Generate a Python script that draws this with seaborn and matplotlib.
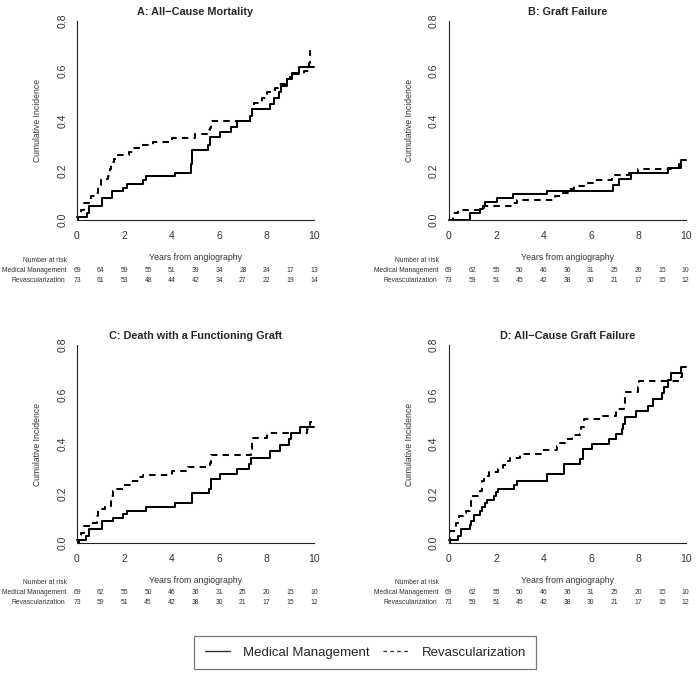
import pandas as pd
import seaborn as sns
import matplotlib
matplotlib.use("Agg")
import matplotlib.pyplot as plt
from matplotlib.lines import Line2D
import matplotlib.transforms as mtransforms

# ---- data (step functions: time, cumulative incidence) ----
groups = ["Medical Management", "Revascularization"]
titles = ["A: All\u2212Cause Mortality", "B: Graft Failure",
          "C: Death with a Functioning Graft", "D: All\u2212Cause Graft Failure"]
years = list(range(0, 11))

a_mm_t = [0, 0.44, 0.52, 1.04, 1.46, 1.93, 2.1, 2.8, 2.9, 4.13, 4.8, 4.87, 5.54, 5.6, 6.03,
          6.5, 6.77, 7.3, 7.37, 8.14, 8.3, 8.54, 8.6, 8.87, 9.06, 9.38, 10]
a_mm_y = [0.014, 0.029, 0.058, 0.087, 0.116, 0.13, 0.145, 0.16, 0.175, 0.19, 0.225, 0.28, 0.30,
          0.335, 0.355, 0.375, 0.40, 0.42, 0.445, 0.465, 0.49, 0.515, 0.54, 0.565, 0.59, 0.615, 0.615]
a_rv_t = [0, 0.05, 0.15, 0.3, 0.6, 0.75, 0.9, 1.0, 1.3, 1.4, 1.45, 1.55, 1.7, 2.2, 2.4, 2.7,
          3.2, 4.0, 5.0, 5.55, 5.6, 5.65, 7.3, 7.35, 7.4, 7.45, 7.8, 8.0, 8.35, 8.5, 8.8, 9.0,
          9.6, 9.8, 9.85, 9.88]
a_rv_y = [0.0, 0.014, 0.041, 0.068, 0.095, 0.11, 0.137, 0.164, 0.178, 0.205, 0.233, 0.247,
          0.26, 0.274, 0.288, 0.30, 0.315, 0.33, 0.345, 0.36, 0.37, 0.40, 0.41, 0.425, 0.45,
          0.47, 0.49, 0.515, 0.53, 0.545, 0.565, 0.585, 0.60, 0.63, 0.68, 0.68]

b_mm_t = [0, 0.9, 1.3, 1.45, 1.55, 2.05, 2.7, 4.15, 6.95, 7.2, 7.7, 9.25, 9.8, 10]
b_mm_y = [0.0, 0.029, 0.044, 0.058, 0.073, 0.088, 0.103, 0.118, 0.14, 0.165, 0.19, 0.21, 0.24, 0.24]
b_rv_t = [0, 0.2, 0.4, 1.3, 1.5, 2.65, 2.9, 4.5, 4.75, 5.05, 5.3, 5.7, 6.1, 6.9, 7.6, 8.0,
          9.4, 9.7, 9.85, 9.9]
b_rv_y = [0.0, 0.027, 0.041, 0.05, 0.055, 0.07, 0.082, 0.096, 0.11, 0.125, 0.135, 0.15,
          0.16, 0.18, 0.19, 0.205, 0.21, 0.225, 0.24, 0.24]

c_mm_t = [0, 0.4, 0.52, 1.04, 1.5, 1.93, 2.1, 2.9, 4.15, 4.87, 5.55, 5.65, 6.05, 6.75, 7.25,
          7.35, 8.15, 8.55, 8.95, 9.05, 9.4, 10]
c_mm_y = [0.014, 0.028, 0.058, 0.087, 0.10, 0.117, 0.13, 0.145, 0.16, 0.20, 0.22, 0.26, 0.28,
          0.30, 0.32, 0.345, 0.37, 0.395, 0.42, 0.445, 0.47, 0.47]
c_rv_t = [0, 0.1, 0.15, 0.3, 0.6, 0.85, 0.9, 1.2, 1.45, 1.5, 1.7, 2.0, 2.3, 2.6, 2.8, 4.0,
          4.7, 5.6, 5.65, 7.35, 7.4, 8.0, 9.7, 9.75, 9.85, 9.9]
c_rv_y = [0.0, 0.014, 0.04, 0.068, 0.08, 0.11, 0.137, 0.15, 0.19, 0.21, 0.22, 0.235, 0.25,
          0.265, 0.275, 0.29, 0.305, 0.325, 0.355, 0.38, 0.425, 0.445, 0.46, 0.475, 0.49, 0.49]

d_mm_t = [0, 0.4, 0.52, 0.9, 0.95, 1.05, 1.3, 1.4, 1.55, 1.6, 1.9, 2.0, 2.1, 2.75, 2.9, 4.15,
          4.85, 5.55, 5.65, 6.05, 6.75, 7.05, 7.3, 7.35, 7.45, 7.9, 8.4, 8.6, 9.0, 9.1, 9.25,
          9.4, 9.8, 10]
d_mm_y = [0.014, 0.028, 0.058, 0.073, 0.087, 0.115, 0.13, 0.145, 0.16, 0.175, 0.19, 0.205,
          0.22, 0.235, 0.25, 0.28, 0.32, 0.34, 0.38, 0.40, 0.42, 0.44, 0.46, 0.48, 0.51, 0.535,
          0.555, 0.58, 0.605, 0.63, 0.66, 0.685, 0.71, 0.71]
d_rv_t = [0, 0.05, 0.3, 0.45, 0.6, 0.75, 0.9, 0.95, 1.3, 1.4, 1.5, 1.7, 2.1, 2.3, 2.5, 2.6,
          3.0, 3.9, 4.55, 4.65, 4.9, 5.2, 5.55, 5.6, 5.7, 6.5, 7.05, 7.4, 7.45, 8.0, 8.05,
          9.8, 9.85, 9.9]
d_rv_y = [0.0, 0.05, 0.08, 0.11, 0.12, 0.13, 0.15, 0.19, 0.21, 0.25, 0.27, 0.285, 0.30,
          0.315, 0.33, 0.345, 0.36, 0.375, 0.39, 0.405, 0.42, 0.435, 0.44, 0.47, 0.50, 0.515,
          0.54, 0.56, 0.61, 0.63, 0.655, 0.67, 0.685, 0.685]

# numbers at risk (years 0..10)
a_risk_mm = [69, 64, 59, 55, 51, 39, 34, 28, 24, 17, 13]
a_risk_rv = [73, 61, 53, 48, 44, 42, 34, 27, 22, 19, 14]
bcd_risk_mm = [69, 62, 55, 50, 46, 36, 31, 25, 20, 15, 10]
bcd_risk_rv = [73, 59, 51, 45, 42, 38, 30, 21, 17, 15, 12]

panels = [
    (a_mm_t, a_mm_y, a_rv_t, a_rv_y, a_risk_mm, a_risk_rv),
    (b_mm_t, b_mm_y, b_rv_t, b_rv_y, bcd_risk_mm, bcd_risk_rv),
    (c_mm_t, c_mm_y, c_rv_t, c_rv_y, bcd_risk_mm, bcd_risk_rv),
    (d_mm_t, d_mm_y, d_rv_t, d_rv_y, bcd_risk_mm, bcd_risk_rv),
]

sns.set_style("white")
plt.rcParams['font.family'] = ['Liberation Sans', 'DejaVu Sans']

fig = plt.figure(figsize=(6.96, 6.73), dpi=100)
positions = [
    [0.1106, 0.6731, 0.3405, 0.2957],
    [0.6447, 0.6731, 0.3405, 0.2957],
    [0.1106, 0.1932, 0.3405, 0.2942],
    [0.6447, 0.1932, 0.3405, 0.2942],
]

dash_map = {"Medical Management": "", "Revascularization": (3.2, 2.6)}
text_col = "#333333"
risk_fs = 4.9

for pos, title, (mt, my, rt, ry, rmm, rrv) in zip(positions, titles, panels):
    ax = fig.add_axes(pos)
    df = pd.concat([
        pd.DataFrame({"years": mt, "cif": my, "group": groups[0]}),
        pd.DataFrame({"years": rt, "cif": ry, "group": groups[1]}),
    ])
    sns.lineplot(data=df, x="years", y="cif", style="group", dashes=dash_map,
                 color="black", drawstyle="steps-post", estimator=None,
                 legend=False, ax=ax, lw=1.45)
    ax.set_xlim(0, 10)
    ax.set_ylim(0, 0.8)
    ax.set_xticks([0, 2, 4, 6, 8, 10])
    ax.set_yticks([0.0, 0.2, 0.4, 0.6, 0.8])
    ax.set_yticklabels(["0.0", "0.2", "0.4", "0.6", "0.8"])
    for side in ["top", "right"]:
        ax.spines[side].set_visible(False)
    for side in ["left", "bottom"]:
        ax.spines[side].set_color("#222222")
        ax.spines[side].set_linewidth(0.8)
    ax.tick_params(axis="both", direction="out", length=4, width=0.8, color="#222222",
                   labelsize=7.5, labelcolor=text_col)
    ax.tick_params(axis="x", pad=4)
    ax.tick_params(axis="y", pad=3, labelrotation=90)
    for lab in ax.get_yticklabels():
        lab.set_va("center")
    ax.set_xlabel("")
    ax.set_ylabel("Cumulative Incidence", fontsize=6.2, color=text_col)
    ax.yaxis.set_label_coords(-0.148, 0.5)
    ax.set_title(title, fontsize=7.8, fontweight="bold", pad=4)
    for ln in ax.lines:
        ln.set_clip_on(False)

    # years label and number-at-risk table
    ax.text(0.5, -0.188, "Years from angiography", transform=ax.transAxes,
            ha="center", va="center", fontsize=6.3, color=text_col)
    trans = mtransforms.blended_transform_factory(ax.transData, ax.transAxes)
    ax.text(-0.04, -0.201, "Number at risk", transform=ax.transAxes,
            ha="right", va="center", fontsize=risk_fs, color=text_col)
    ax.text(-0.045, -0.252, groups[0], transform=ax.transAxes,
            ha="right", va="center", fontsize=risk_fs, color=text_col)
    ax.text(-0.05, -0.302, groups[1], transform=ax.transAxes,
            ha="right", va="center", fontsize=risk_fs, color=text_col)
    for yr, n1, n2 in zip(years, rmm, rrv):
        ax.text(yr, -0.252, str(n1), transform=trans, ha="center", va="center",
                fontsize=risk_fs, color=text_col)
        ax.text(yr, -0.302, str(n2), transform=trans, ha="center", va="center",
                fontsize=risk_fs, color=text_col)

handles = [Line2D([], [], color="#333333", lw=1.0),
           Line2D([], [], color="#333333", lw=1.0, dashes=(2.5, 2.5))]
leg = fig.legend(handles, groups, loc="center", bbox_to_anchor=(0.525, 0.0305), ncol=2,
                 frameon=True, fancybox=False, fontsize=9.5, handlelength=1.9,
                 handletextpad=1.0, columnspacing=1.0, borderpad=0.8)
leg.get_frame().set_edgecolor("#555555")
leg.get_frame().set_linewidth(0.9)

fig.savefig("out.png", dpi=100)
